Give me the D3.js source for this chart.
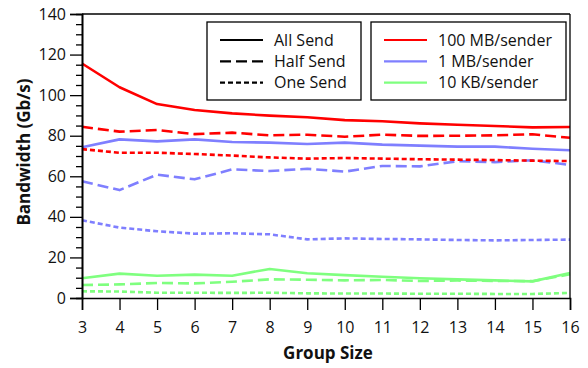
<!DOCTYPE html>
<html>
<head>
<meta charset="utf-8">
<script src="https://cdn.jsdelivr.net/npm/d3@7"></script>
<style>
  html, body { margin: 0; padding: 0; background: #fff; }
  svg { display: block; font-family: "Open Sans", "Noto Sans", sans-serif; }
</style>
</head>
<body>
<svg id="chart" width="588" height="368"></svg>
<script>
// Group sizes on the x axis
const groupSizes = [3, 4, 5, 6, 7, 8, 9, 10, 11, 12, 13, 14, 15, 16];

// Bandwidth (Gb/s) per message size and sending pattern
const mb100All  = [115.6, 103.9, 95.6, 92.7, 91.0, 89.9, 89.1, 87.7, 87.1, 86.1, 85.4, 84.8, 84.1, 84.3];
const mb100Half = [84.4, 82.0, 82.8, 80.8, 81.5, 80.2, 80.5, 79.5, 80.5, 79.9, 80.0, 80.2, 80.7, 79.0];
const mb100One  = [73.4, 71.6, 71.6, 71.0, 70.2, 69.3, 68.7, 69.0, 68.7, 68.4, 68.2, 68.0, 67.7, 67.5];
const mb1All    = [74.3, 78.2, 77.2, 78.2, 76.9, 76.6, 75.9, 76.6, 75.6, 75.1, 74.6, 74.6, 73.6, 72.8];
const mb1Half   = [57.5, 53.2, 60.8, 58.5, 63.4, 62.6, 63.7, 62.3, 65.1, 64.9, 67.4, 67.0, 67.9, 65.6];
const mb1One    = [38.3, 34.7, 32.9, 31.7, 31.9, 31.4, 28.9, 29.4, 29.1, 28.9, 28.6, 28.4, 28.6, 28.8];
const kb10All   = [9.7, 12.0, 11.0, 11.5, 11.0, 14.3, 12.2, 11.3, 10.5, 9.7, 9.2, 8.7, 8.2, 12.3];
const kb10Half  = [6.4, 6.7, 7.4, 7.2, 8.0, 9.2, 9.0, 8.7, 8.9, 8.4, 8.6, 8.4, 8.3, 11.7];
const kb10One   = [3.3, 3.2, 2.6, 2.6, 2.5, 2.6, 2.3, 2.2, 2.2, 2.1, 2.1, 2.0, 2.0, 2.5];

const yTicks = [0, 20, 40, 60, 80, 100, 120, 140];

const sizeNames  = ["100 MB/sender", "1 MB/sender", "10 KB/sender"];
const sizeColors = ["#ff0000", "#7f7fff", "#7fff7f"];
const modeNames  = ["All Send", "Half Send", "One Send"];
const modeDashes = [null, "11,5", "5,3"];

const seriesList = [
  { values: mb100All,  size: 0, mode: 0 },
  { values: mb100Half, size: 0, mode: 1 },
  { values: mb100One,  size: 0, mode: 2 },
  { values: mb1All,    size: 1, mode: 0 },
  { values: mb1Half,   size: 1, mode: 1 },
  { values: mb1One,    size: 1, mode: 2 },
  { values: kb10All,   size: 2, mode: 0 },
  { values: kb10Half,  size: 2, mode: 1 },
  { values: kb10One,   size: 2, mode: 2 }
];

const FONT = "'Open Sans', 'Noto Sans', sans-serif";
const svg = d3.select("#chart");
const plot = { left: 82, right: 570, top: 14, bottom: 298 };

const x = d3.scaleLinear().domain([3, 16]).range([plot.left, plot.right]);
const y = d3.scaleLinear().domain([0, 140]).range([plot.bottom, plot.top]);

// Data lines
const line = d3.line()
  .x((d, i) => x(groupSizes[i]))
  .y(d => y(d));

const lines = svg.append("g");
seriesList.slice().reverse().forEach(s => {
  lines.append("path")
    .datum(s.values)
    .attr("d", line)
    .attr("fill", "none")
    .attr("stroke", sizeColors[s.size])
    .attr("stroke-width", 2.6)
    .attr("stroke-dasharray", modeDashes[s.mode])
    .attr("stroke-linejoin", "round");
});

// Frame: top and right edges
svg.append("line")
  .attr("x1", plot.left).attr("x2", plot.right)
  .attr("y1", plot.top).attr("y2", plot.top)
  .attr("stroke", "#000").attr("stroke-width", 1.3);
svg.append("line")
  .attr("x1", plot.right).attr("x2", plot.right)
  .attr("y1", plot.top).attr("y2", plot.bottom)
  .attr("stroke", "#000").attr("stroke-width", 1.3);

// Y axis: labelled major ticks plus minor ticks every 5
const yAxis = d3.axisLeft(y).tickValues(yTicks).tickSize(12).tickPadding(4).tickFormat(d3.format("d"));
const yMinor = d3.axisLeft(y).tickValues(d3.range(0, 141, 5).filter(v => v % 20 !== 0)).tickSize(6).tickFormat("");
const gyMinor = svg.append("g").attr("transform", `translate(${plot.left},0)`).call(yMinor);
const gy = svg.append("g").attr("transform", `translate(${plot.left},0)`).call(yAxis);

// X axis
const xAxis = d3.axisBottom(x).tickValues(groupSizes).tickSize(12).tickPadding(12).tickFormat(d3.format("d"));
const gx = svg.append("g").attr("transform", `translate(0,${plot.bottom})`).call(xAxis);

[gy, gx, gyMinor].forEach(g => {
  g.select(".domain").attr("stroke", "#000").attr("stroke-width", 1.6);
  g.selectAll(".tick line").attr("stroke", "#000").attr("stroke-width", 1.3);
  g.selectAll("text").attr("font-family", FONT)
    .attr("font-size", 16).attr("fill", "#111");
});

// Axis titles
svg.append("text")
  .attr("x", 328)
  .attr("y", 359)
  .attr("text-anchor", "middle")
  .attr("font-size", 17).attr("font-weight", "bold").attr("fill", "#111")
  .text("Group Size");

svg.append("text")
  .attr("transform", "translate(30,152) rotate(-90)")
  .attr("text-anchor", "middle")
  .attr("font-size", 17).attr("font-weight", "bold").attr("fill", "#111")
  .text("Bandwidth (Gb/s)");

// Legends: sending pattern (line style) and message size (colour)
function legendBox(x0, x1, labels, styleFn) {
  const g = svg.append("g");
  g.append("rect")
    .attr("x", x0).attr("y", 22)
    .attr("width", x1 - x0).attr("height", 78)
    .attr("fill", "#fff").attr("stroke", "#000").attr("stroke-width", 1.3);
  labels.forEach((lab, i) => {
    const yy = 40 + i * 21.3;
    const ln = g.append("line")
      .attr("x1", x0 + 13).attr("x2", x0 + 56)
      .attr("y1", yy).attr("y2", yy)
      .attr("stroke-width", 2.2);
    styleFn(ln, i);
    g.append("text")
      .attr("x", x0 + 67).attr("y", yy + 5.8)
      .attr("font-size", 16).attr("fill", "#111")
      .text(lab);
  });
}

legendBox(207, 361, modeNames, (ln, i) => ln.attr("stroke", "#000").attr("stroke-dasharray", modeDashes[i]));
legendBox(371, 566, sizeNames, (ln, i) => ln.attr("stroke", sizeColors[i]));
</script>
</body>
</html>
